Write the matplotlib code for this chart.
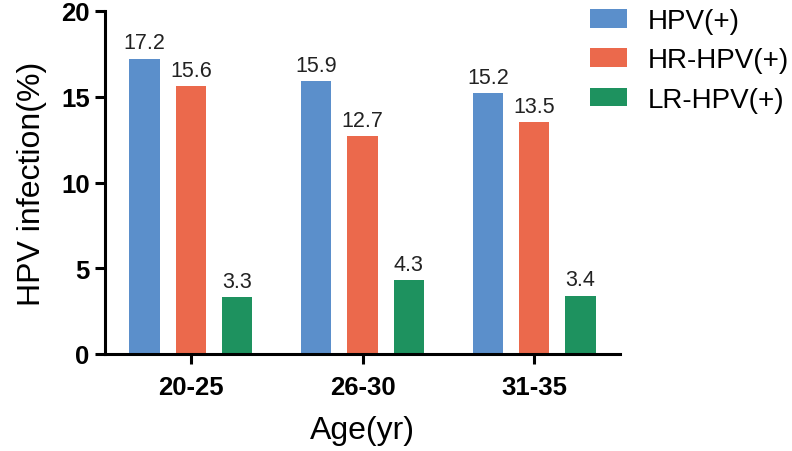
import numpy as np
import matplotlib.pyplot as plt

plt.rcParams['font.family'] = ['Liberation Sans', 'DejaVu Sans']

age_groups = ["20-25", "26-30", "31-35"]
series_names = ["HPV(+)", "HR-HPV(+)", "LR-HPV(+)"]
hpv_all = [17.2, 15.9, 15.2]
hpv_hr = [15.6, 12.7, 13.5]
hpv_lr = [3.3, 4.3, 3.4]
colors = ["#5b8fcb", "#eb694c", "#1e925f"]

fig = plt.figure(figsize=(7.92, 4.52), dpi=100)
ax = fig.add_axes([105 / 792, 1 - 355 / 452, 515 / 792, 343 / 452])

x = np.arange(len(age_groups))
width = 0.175
offset = 0.27
for i, (vals, name) in enumerate(zip([hpv_all, hpv_hr, hpv_lr], series_names)):
    bars = ax.bar(x + (i - 1) * offset, vals, width, color=colors[i], label=name)
    ax.bar_label(bars, labels=[f"{v:.1f}" for v in vals], padding=4,
                 fontsize=15.5, color="#222222")

ax.set_xlim(-0.5, 2.5)
ax.set_ylim(0, 20)
ax.set_yticks([0, 5, 10, 15, 20])
ax.set_xticks(x)
ax.set_xticklabels(age_groups)
for lab in ax.get_xticklabels() + ax.get_yticklabels():
    lab.set_fontweight("bold")
    lab.set_fontsize(18.5)
ax.tick_params(axis="both", width=2.2, length=7, color="black")
ax.tick_params(axis="x", pad=8)
ax.tick_params(axis="y", pad=4)
for side in ["top", "right"]:
    ax.spines[side].set_visible(False)
for side in ["left", "bottom"]:
    ax.spines[side].set_linewidth(2.2)

ax.set_xlabel("Age(yr)", fontsize=23, labelpad=12)
ax.set_ylabel("HPV infection(%)", fontsize=23, labelpad=10)

fig.legend(loc="upper left", bbox_to_anchor=(590 / 792, 1 - 9 / 452),
           frameon=False, fontsize=20, handlelength=1.33, handleheight=0.65,
           handletextpad=0.75, labelspacing=0.48, borderpad=0, borderaxespad=0)

fig.savefig("out.png", dpi=100)
